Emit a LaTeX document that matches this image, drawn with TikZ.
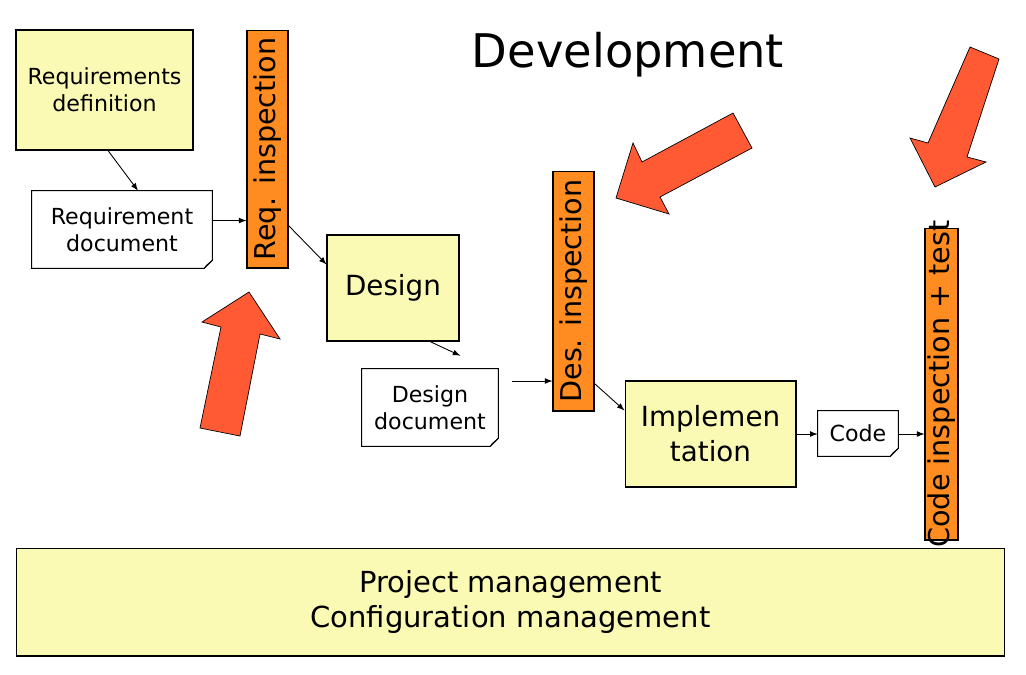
\documentclass[tikz,border=0pt]{standalone}
\usepackage{fontspec}
\setmainfont{DejaVu Sans}
\usepackage{tikz}
\usetikzlibrary{calc}
\usetikzlibrary{arrows}
\definecolor{paleyellow}{RGB}{250, 250, 180}
\definecolor{tangerine}{RGB}{255, 140, 32}
\definecolor{vermilion}{RGB}{255, 90, 52}
\tikzset{
  phase/.style={draw=black, fill=paleyellow, line width=0.6pt, inner sep=0pt, align=center},
  paper/.style={inner sep=0pt, align=center},
  review/.style={draw=black, fill=tangerine, line width=0.6pt, inner sep=0pt, rotate=90,
                 font=\fontsize{16.3}{19}\selectfont},
  flow/.style={-latex, line width=0.5pt},
  bigarrow/.style={fill=vermilion, draw=black, line width=0.4pt}
}
\newcommand{\smalltxt}{\fontsize{12.6}{15.3}\selectfont}
\newcommand{\midtxt}{\fontsize{15.8}{20}\selectfont}

\begin{document}
\begin{tikzpicture}[x=0.02cm, y=-0.02cm]
  \useasboundingbox (0,0) rectangle (1026,674);

  % title
  \node (title) at (628,55) {\fontsize{26.4}{30}\selectfont Development};

  % phases and documents
  \node[phase, minimum width=3.54cm, minimum height=2.40cm, font=\smalltxt] (reqdef)  at (104.5,90)  {Requirements\\definition};
  \node[paper, minimum width=3.60cm, minimum height=1.54cm, font=\smalltxt] (reqdoc)  at (122,229.5) {Requirement\\document};
  \node[review, minimum width=4.76cm, minimum height=0.82cm] (reqinsp) at (267.5,149) {Req. inspection};
  \node[phase, minimum width=2.64cm, minimum height=2.12cm, font=\midtxt] (design)  at (393,288)  {Design};
  \node[paper, minimum width=2.72cm, minimum height=1.54cm, font=\smalltxt] (desdoc)  at (430,407.5) {Design\\document};
  \node[review, minimum width=4.80cm, minimum height=0.82cm] (desinsp) at (573.5,291) {Des. inspection};
  \node[phase, minimum width=3.42cm, minimum height=2.12cm, font=\midtxt] (impl)    at (710.5,434) {Implemen\\tation};
  \node[paper, minimum width=1.60cm, minimum height=0.90cm, font=\smalltxt] (code)    at (858,433.5) {Code};
  \node[review, minimum width=6.24cm, minimum height=0.66cm] (codeinsp) at (941.5,384) {\makebox[0pt]{Code inspection + test}};
  \node[phase, minimum width=19.78cm, minimum height=2.16cm, font=\fontsize{16.5}{20}\selectfont] (mgmt) at (510.5,602)
       {Project management\\Configuration management};

  % documents with folded corner
  \foreach \d in {reqdoc, desdoc, code} {
    \draw[line width=0.6pt] (\d.north west) -- (\d.north east) -- ($(\d.south east)+(0,-8)$)
         -- ($(\d.south east)+(-8,0)$) -- (\d.south west) -- cycle;
    \draw[line width=0.4pt] ($(\d.south east)+(0,-8)$) -- ($(\d.south east)+(-6,-3)$) -- ($(\d.south east)+(-8,0)$);
  }

  % connectors (review bars are turned: their north side faces left)
  \coordinate (fromdes) at (512,381);
  \draw[flow] ([xshift=0.07cm]reqdef.south) -- ([xshift=0.32cm]reqdoc.north);
  \draw[flow] ([yshift=0.18cm]reqdoc.east) coordinate (p1) -- (p1 -| reqinsp.north);
  \draw[flow] ([yshift=0.86cm]reqinsp.south west) -- ([yshift=-0.60cm]design.north west);
  \draw[flow] ([xshift=0.74cm]design.south) -- ([xshift=-0.76cm, yshift=0.26cm]desdoc.north east);
  \draw[flow] (fromdes) -- (fromdes -| desinsp.north);
  \draw[flow] ([yshift=0.56cm]desinsp.south west) -- ([yshift=-0.60cm]impl.north west);
  \draw[flow] (impl.east) -- (impl.east -| code.west);
  \draw[flow] (impl.east -| code.east) -- (impl.east -| codeinsp.north);

  % big red arrows
  \filldraw[bigarrow] (249,292) -- (280,339) -- (260,334) -- (240,436) -- (200,428) -- (221,327) -- (202,322) -- cycle;
  \filldraw[bigarrow] (616,198) -- (633,143) -- (642,162) -- (733,113) -- (752,148) -- (660,197) -- (669,214) -- cycle;
  \filldraw[bigarrow] (935,187) -- (910,138) -- (928,143) -- (970,47) -- (999,59) -- (967,157) -- (986,162) -- cycle;
\end{tikzpicture}
\end{document}
